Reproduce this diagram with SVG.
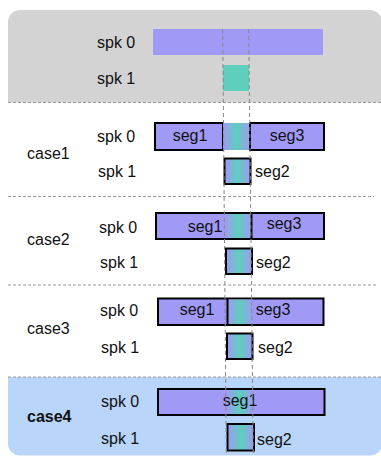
<svg xmlns="http://www.w3.org/2000/svg" width="381" height="457" viewBox="0 0 381 457">
<defs>
<linearGradient id="mix" x1="0" y1="0" x2="1" y2="0">
<stop offset="0" stop-color="#a09af6"/>
<stop offset="0.5" stop-color="#5dcfbc"/>
<stop offset="1" stop-color="#a09af6"/>
</linearGradient>
<clipPath id="frame"><rect x="8" y="10" width="374" height="445.5" rx="12"/></clipPath>
</defs>
<style>
text{font-family:"Liberation Sans",Arial,sans-serif;font-size:16px;fill:#111}
.b{font-weight:bold}
.seg{fill:#a09af6;stroke:#000;stroke-width:2}
.mix{fill:url(#mix)}
.mixb{fill:url(#mix);stroke:#000;stroke-width:2}
.sep{stroke:#999;stroke-width:1;stroke-dasharray:3 2;fill:none}
.guide{stroke:#888;stroke-width:1;stroke-dasharray:4 3;fill:none}
.mid{text-anchor:middle}
</style>
<g id="background" clip-path="url(#frame)">
<rect x="8" y="10" width="374" height="92.5" fill="#d3d3d3"/>
<rect x="8" y="377" width="374" height="80" fill="#b9d5f9"/>
</g>
<g id="reference">
<rect x="153" y="29" width="170" height="26" fill="#a09af6"/>
<rect x="223" y="65" width="26" height="26" fill="#5dcfbc"/>
<text x="97" y="48">spk 0</text>
<text x="97" y="84">spk 1</text>
</g>
<g id="case1">
<text x="27" y="159">case1</text>
<text x="97" y="142">spk 0</text>
<text x="98" y="177">spk 1</text>
<rect class="seg" x="155" y="123" width="68" height="27"/>
<rect class="mix" x="223" y="123" width="27" height="27"/>
<rect class="seg" x="250" y="123" width="74" height="27"/>
<rect class="mixb" x="224.5" y="158.5" width="26" height="25.5"/>
<text class="mid" x="190" y="141">seg1</text>
<text class="mid" x="287" y="141">seg3</text>
<text x="255" y="177">seg2</text>
</g>
<g id="case2">
<text x="27" y="245">case2</text>
<text x="99" y="233">spk 0</text>
<text x="100" y="268">spk 1</text>
<rect class="seg" x="156" y="213" width="168" height="26"/>
<rect class="mix" x="225" y="214" width="26.5" height="24"/>
<line x1="251.5" y1="213" x2="251.5" y2="239" stroke="#000" stroke-width="2"/>
<rect class="mixb" x="226" y="248.5" width="26" height="25.5"/>
<text class="mid" x="205" y="232">seg1</text>
<text class="mid" x="284" y="229">seg3</text>
<text x="256" y="268">seg2</text>
</g>
<g id="case3">
<text x="27" y="334">case3</text>
<text x="100" y="316">spk 0</text>
<text x="101" y="353">spk 1</text>
<rect class="seg" x="158" y="298.5" width="165.5" height="26.5"/>
<rect class="mix" x="227.5" y="299.5" width="25" height="24.5"/>
<line x1="227.5" y1="298.5" x2="227.5" y2="325" stroke="#000" stroke-width="2"/>
<rect class="mixb" x="227" y="333.5" width="25.5" height="25.5"/>
<text class="mid" x="197" y="315">seg1</text>
<text class="mid" x="273" y="315">seg3</text>
<text x="258" y="353">seg2</text>
</g>
<g id="case4">
<text class="b" x="27" y="422">case4</text>
<text x="101" y="407">spk 0</text>
<text x="101" y="444">spk 1</text>
<rect class="seg" x="158" y="389" width="166.5" height="26"/>
<rect class="mix" x="226.5" y="390" width="26.5" height="24"/>
<rect class="mixb" x="227.5" y="424" width="26.5" height="26.5"/>
<text class="mid" x="240" y="406">seg1</text>
<text x="257" y="445">seg2</text>
</g>
<g id="connectors">
<line class="sep" x1="8" y1="102.5" x2="381" y2="102.5"/>
<line class="sep" x1="8" y1="196.5" x2="374" y2="196.5"/>
<line class="sep" x1="8" y1="285" x2="377" y2="285"/>
<line class="sep" x1="8" y1="377" x2="381" y2="377"/>
<line class="guide" x1="222.7" y1="29" x2="226.3" y2="455"/>
<line class="guide" x1="248.7" y1="29" x2="253.3" y2="455"/>
</g>
</svg>
